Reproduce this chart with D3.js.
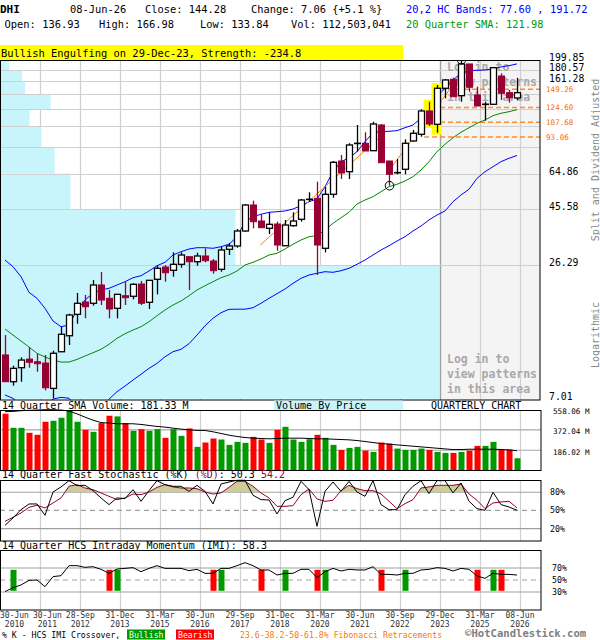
<!DOCTYPE html>
<html><head><meta charset="utf-8">
<script src="https://cdn.jsdelivr.net/npm/d3@7"></script>
<style>
body{margin:0;background:#fff}
svg{display:block}
text{font-family:"DejaVu Sans Mono",monospace}
</style>
</head><body>
<svg id="c" width="600" height="640"></svg>
<script>
// ---------------- DATA ----------------
const symbol = "DHI";
const lastDate = "08-Jun-26";
const lastVolume = "112,503,041";
const patternText = "Bullish Engulfing on 29-Dec-23, Strength: -234.8";

const xTickIdx = [0,4,9,14,19,24,29,34,39,44,49,54,59,64];
const xTickDay = ["30-Jun","30-Jun","28-Sep","31-Dec","31-Mar","30-Jun","29-Sep","31-Dec","31-Mar","30-Jun","30-Sep","29-Dec","31-Mar","08-Jun"];
const xTickYear = ["2010","2011","2012","2013","2015","2016","2017","2018","2020","2021","2022","2023","2025","2026"];

const open = [10.81,8.30,9.53,10.38,10.11,9.98,7.77,11.16,13.07,16.15,
18.24,18.01,21.58,18.92,17.14,19.41,19.30,21.79,18.19,22.83,
25.78,24.95,26.47,28.54,27.16,28.74,27.35,25.20,30.70,31.72,
36.79,47.57,40.61,37.78,39.42,31.80,38.76,41.30,50.00,50.82,
31.01,52.87,73.47,66.09,87.00,87.52,81.34,104.86,73.47,65.20,
67.69,89.53,95.65,120.42,105.59,150.70,164.72,140.07,191.60,141.04,
128.30,128.65,170.16,144.29,136.93];
const high = [13.16,9.72,10.56,11.66,10.91,10.81,11.27,14.25,16.25,19.94,
19.55,22.67,24.53,20.54,19.74,22.29,21.94,22.45,22.67,26.11,
26.29,29.80,29.80,28.54,29.69,31.01,27.90,31.50,32.58,37.52,
48.04,49.63,43.39,44.25,40.33,41.03,44.25,50.47,53.93,59.88,
56.99,73.47,77.96,87.52,104.86,97.56,108.33,105.90,73.47,74.93,
91.03,99.80,122.45,132.01,155.68,165.19,167.34,199.85,191.60,153.09,
132.01,184.72,174.78,148.17,166.98];
const low = [8.27,7.98,8.30,9.53,9.16,7.62,7.04,11.12,11.93,14.72,
15.53,17.59,17.71,15.53,15.53,17.71,18.73,17.71,17.02,19.68,
22.29,23.42,25.60,20.54,26.11,27.00,24.12,24.61,29.02,31.19,
36.53,37.78,38.01,35.71,30.28,31.80,38.39,40.33,49.14,23.82,
29.80,51.12,61.50,61.50,80.54,81.10,81.34,72.24,57.56,64.42,
64.42,88.91,93.41,103.83,97.17,136.51,138.68,132.01,145.71,126.51,
109.42,127.77,134.24,130.71,133.84];
const close = [8.30,9.47,10.28,10.05,9.91,7.82,10.99,13.26,16.04,18.01,
17.41,21.58,18.60,17.02,19.68,19.03,21.73,18.01,22.60,25.45,
24.36,26.47,29.02,27.16,28.74,27.43,24.85,30.49,31.72,36.79,
47.57,40.33,38.01,39.30,32.03,39.03,40.61,49.97,50.30,32.03,
52.87,72.53,65.25,86.06,87.40,81.10,105.90,72.24,64.42,65.44,
87.52,96.60,120.42,105.90,150.70,163.58,138.68,191.60,152.18,126.51,
128.65,184.72,143.42,137.22,144.28];

// volume in millions
const volume = [521.2,392.0,392.0,345.9,327.5,447.4,456.6,484.3,551.9,447.4,
373.6,355.1,435.1,502.7,496.5,435.1,364.3,379.7,364.3,379.7,
299.8,379.7,318.2,385.9,216.8,256.7,293.6,284.4,235.2,262.9,
253.7,309.0,284.4,253.7,373.6,401.2,284.4,262.9,287.5,327.5,
299.8,235.2,189.1,207.5,216.8,182.9,170.6,256.7,247.5,201.4,
189.1,189.1,201.4,189.1,170.6,161.4,161.4,170.6,182.9,226.0,
226.0,262.9,192.1,192.1,112.5];
const volSMA = [539.6,542.7,548.8,551.9,555.0,558.0,558.0,555.0,546.0,520.0,
490.0,462.0,440.0,435.1,428.9,428.9,428.9,422.8,413.5,404.3,
398.2,388.9,379.7,373.6,368.0,367.4,355.1,339.8,324.4,312.1,
302.9,296.7,293.6,290.6,293.6,296.7,296.7,296.7,293.6,290.6,
290.6,287.5,284.4,281.3,275.2,265.9,256.7,247.5,241.4,235.2,
229.0,222.9,216.8,210.6,204.5,198.3,192.1,192.1,195.3,195.3,
195.3,195.3,193.0,189.0,181.33];

const sma20 = [13.97,13.16,12.41,11.69,10.99,10.59,10.28,10.08,10.08,10.35,
10.70,11.05,11.43,12.01,12.74,13.33,13.83,14.29,15.01,15.93,
16.85,17.71,18.42,19.41,20.54,21.43,22.29,23.19,23.82,24.78,
26.29,27.00,27.90,29.02,29.51,30.79,32.26,33.66,34.77,35.12,
37.15,39.70,41.95,44.25,48.04,49.97,51.63,54.25,56.99,58.36,
60.29,62.91,67.22,72.97,80.54,86.65,92.49,97.56,102.09,106.64,
110.17,114.95,117.71,119.59,121.98];
const bandUpper = [27.62,25.85,23.42,20.07,18.92,17.14,15.12,14.29,14.53,16.85,
18.60,19.88,20.54,20.88,21.58,22.29,23.19,23.65,24.78,26.11,
27.00,29.02,29.98,30.79,31.19,31.19,31.01,31.50,32.26,34.77,
40.33,42.37,43.39,44.25,44.52,44.83,45.72,47.24,49.14,50.47,
56.99,66.09,72.97,75.68,80.54,88.91,97.17,98.14,98.52,99.12,
102.09,104.86,112.04,121.61,138.68,150.70,163.58,174.78,179.31,180.03,
180.57,182.37,186.00,188.41,191.72];
const bandLower = [7.28,7.04,6.58,6.81,6.38,6.54,6.99,7.11,7.05,6.36,
6.16,6.14,6.36,6.98,7.52,7.95,8.44,8.93,9.47,9.95,
10.62,11.16,11.43,12.08,13.16,14.43,15.53,16.41,16.97,16.99,
16.99,17.24,18.01,18.92,19.80,20.74,21.94,23.05,23.82,24.22,
24.61,24.46,24.85,25.45,26.47,27.62,29.02,30.49,31.80,33.33,
34.77,36.79,38.65,41.03,43.09,44.83,49.14,52.50,55.55,61.92,
66.09,69.44,72.97,75.45,77.60];

const stochK = [25.5,37.6,51.3,60.7,60.7,42.0,80.4,88.7,99.1,90.9,
91.4,82.6,70.6,59.6,70.6,69.5,84.3,65.1,82.6,99.1,
92.5,89.8,89.8,81.5,91.4,81.5,60.7,93.6,96.9,99.7,
99.7,75.0,67.8,67.3,44.2,66.2,71.7,98.0,84.3,23.9,
81.5,96.9,81.5,98.0,80.4,73.3,99.1,59.6,51.3,51.3,
76.0,89.8,99.1,77.7,99.1,99.1,78.8,95.3,65.1,53.0,
50.2,79.9,59.6,55.7,50.3];
const stochD = [32.1,38.7,45.8,55.2,58.5,54.1,62.3,70.6,89.8,92.5,
87.0,84.3,78.8,73.3,67.8,70.6,77.1,76.0,80.4,88.1,
92.5,88.7,87.0,87.0,85.9,80.4,77.1,78.8,88.1,98.0,
98.0,89.8,78.8,70.6,56.8,56.8,57.9,76.0,85.4,68.9,
65.1,66.7,82.6,91.4,85.9,82.6,82.6,77.1,65.1,53.0,
61.2,67.8,87.0,88.7,91.4,91.4,91.4,93.6,77.1,66.7,
53.0,62.3,64.0,65.1,54.2];

const imi = [30.6,37.2,41.7,49.4,50.0,38.9,55.6,57.2,73.9,73.9,
71.1,72.2,67.8,61.1,68.3,69.4,70.6,63.9,69.4,73.9,
69.4,69.4,69.4,65.6,67.8,61.1,61.1,69.4,69.4,73.9,
78.9,73.9,66.7,66.7,58.3,61.1,61.1,67.8,67.8,53.9,
63.9,69.4,65.0,67.8,66.7,66.7,72.2,59.4,59.4,58.3,
61.1,61.1,66.7,67.8,70.6,69.4,65.0,69.4,67.8,56.7,
52.8,61.1,59.4,59.4,58.3];
const imiBullish = [1,14,27,35,40,50,61];
const imiBearish = [13,26,32,39,47,59,62];

// price levels of the right axis / volume-by-price bins
const priceLevels = [7.01,26.29,45.58,64.86,84.14,103.43,122.71,142.00,161.28,180.57,199.85];
const priceLabels = ["199.85","180.57","161.28","64.86","45.58","26.29","7.01"];
const vbpVolume = [100,53.4,15.9,12.3,9.3,6.6,11.4,5.6,4.9,2.0]; // relative, bottom bin first

const fibLevels = [149.26,124.60,107.68,93.06];
const fibLabels = ["149.26","124.60","107.68","93.06"];
const fibStartIdx = [54,54,54,52];

// trend lines: [startIndex, startValue, endIndex, endValue]
const trendLines = [[31.9,32.0,46.9,93.2],[47.9,66.2,57.9,189.9]];
const patternIdx = [53,54];
const circleLowIdx = 48, circleHighIdx = 57;
const shadeFromIdx = 54;

const volTicks = [186.02,372.04,558.06];
const stochTicks = [20,50,80];
const imiTicks = [30,50,70];

// ---------------- CHART ----------------
const svg = d3.select("#c");
const MAROON = "#990033", GREENV = "#009900", REDV = "#ff0000";
const GRID = "#d0d0d0";

const x = d3.scaleLinear().domain([0,64]).range([5,517]);
const gx = i => x(i) + 3;
const yP = d3.scaleLog().domain([7.01,199.85]).range([398.8,59.7]);
const yV = d3.scaleLinear().domain([0,558.06]).range([470.5,409.7]);
const yS = d3.scaleLinear().domain([0,100]).range([540.8,480.1]);
const yI = d3.scaleLinear().domain([0,100]).range([610,550]);
const vbpW = d3.scaleLinear().domain([0,100]).range([0,440]);
const idx = d3.range(close.length);
const gridIdx = xTickIdx.slice(1);

const defs = svg.append("defs");
defs.append("clipPath").attr("id","mainClip").append("rect").attr("x",0).attr("y",60).attr("width",540).attr("height",340);
defs.append("clipPath").attr("id","stClip").append("rect").attr("x",0).attr("y",480).attr("width",541).attr("height",yS(80)-480);

// ---- header ----
const hdr = svg.append("g").attr("font-size","10.4px");
const chg = close[64]-close[63];
hdr.append("text").attr("x",0).attr("y",13).attr("font-weight","bold").attr("font-size","11px").text(symbol);
hdr.append("text").attr("x",70).attr("y",13).text(lastDate);
hdr.append("text").attr("x",145).attr("y",13).text("Close: "+close[64].toFixed(2));
hdr.append("text").attr("x",251).attr("y",13).text("Change: "+chg.toFixed(2)+" {+"+(chg/close[63]*100).toFixed(1)+" %}");
hdr.append("text").attr("x",406).attr("y",13).attr("fill","#0000ff").text("20,2 HC Bands: "+bandLower[64].toFixed(2)+" , "+bandUpper[64].toFixed(2));
hdr.append("text").attr("x",4.6).attr("y",28).text("Open: "+open[64].toFixed(2));
hdr.append("text").attr("x",99).attr("y",28).text("High: "+high[64].toFixed(2));
hdr.append("text").attr("x",200).attr("y",28).text("Low: "+low[64].toFixed(2));
hdr.append("text").attr("x",291).attr("y",28).text("Vol: "+lastVolume);
hdr.append("text").attr("x",406).attr("y",28).attr("fill","#009900").text("20 Quarter SMA: "+sma20[64].toFixed(2));
svg.append("rect").attr("x",0).attr("y",45).attr("width",403).attr("height",15).attr("fill","#ffff00");
svg.append("text").attr("x",1).attr("y",57).attr("font-size","10.4px").text(patternText);

// ---- main price chart ----
const main = svg.append("g");
main.append("rect").attr("x",0).attr("y",60).attr("width",540).attr("height",340).attr("fill","#fff");
main.append("rect").attr("x",gx(shadeFromIdx)).attr("y",60).attr("width",540-gx(shadeFromIdx)).attr("height",340).attr("fill","#f4f4f4");
main.selectAll(".vg").data(gridIdx).join("line")
  .attr("x1",d=>gx(d)+0.5).attr("x2",d=>gx(d)+0.5).attr("y1",60).attr("y2",400)
  .attr("stroke",d=>d===shadeFromIdx?"#a0a0a0":GRID).attr("stroke-width",1.2);
main.selectAll(".vbp").data(vbpVolume).join("rect")
  .attr("x",0.5).attr("y",(d,i)=>yP(priceLevels[i+1]))
  .attr("width",d=>vbpW(d)).attr("height",(d,i)=>yP(priceLevels[i])-yP(priceLevels[i+1]))
  .attr("fill","#c8f4fc");
main.append("line").attr("x1",gx(shadeFromIdx)+0.5).attr("x2",gx(shadeFromIdx)+0.5).attr("y1",60).attr("y2",400).attr("stroke","#a0a0a0").attr("stroke-width",1.2);
main.selectAll(".hg").data(priceLevels.slice(1,-1)).join("line")
  .attr("x1",0).attr("x2",540).attr("y1",d=>Math.round(yP(d))+0.5).attr("y2",d=>Math.round(yP(d))+0.5)
  .attr("stroke",GRID).attr("stroke-width",1.2);
const loginLines = ["Log in to","view patterns","in this area"];
[71,363].forEach(y0=>{
  loginLines.forEach((t,k)=>{
    main.append("text").attr("x",447).attr("y",y0+k*15).attr("font-size","11.5px")
      .attr("font-weight","bold").attr("fill","#a8a8a8").text(t);
  });
});
main.selectAll(".fib").data(fibLevels).join("line")
  .attr("x1",(d,i)=>gx(fibStartIdx[i])).attr("x2",540)
  .attr("y1",d=>yP(d)).attr("y2",d=>yP(d))
  .attr("stroke","#ff8c2a").attr("stroke-width",1.5).attr("stroke-dasharray","5,3");

const pc = main.append("g").attr("clip-path","url(#mainClip)");
const lineOf = (arr,ys) => d3.line().x((d,i)=>x(i)).y(d=>ys(d))(arr);
pc.append("path").attr("d",lineOf(bandUpper,yP)).attr("fill","none").attr("stroke","#0000ff").attr("stroke-width",1);
pc.append("path").attr("d",lineOf(bandLower,yP)).attr("fill","none").attr("stroke","#0000ff").attr("stroke-width",1);
pc.append("path").attr("d",lineOf(sma20,yP)).attr("fill","none").attr("stroke","#008800").attr("stroke-width",1);
pc.selectAll(".tl").data(trendLines).join("line")
  .attr("x1",d=>x(d[0])).attr("y1",d=>yP(d[1])).attr("x2",d=>x(d[2])).attr("y2",d=>yP(d[3]))
  .attr("stroke","#ff7f00").attr("stroke-width",1);
pc.selectAll(".hl").data(patternIdx).join("rect")
  .attr("x",d=>x(d)-5.5).attr("width",10)
  .attr("y",d=>yP(high[d])-2).attr("height",d=>yP(low[d])-yP(high[d])+4)
  .attr("fill","#ffff00");
const cg = pc.selectAll(".cd").data(idx).join("g");
cg.each(function(i){
  const g = d3.select(this);
  const o=open[i], c=close[i];
  const doji = Math.abs(c-o)/o < 0.01;
  const up = c>=o;
  const col = (doji||up) ? "#000" : MAROON;
  const cx = x(i)+0.5;
  g.append("line").attr("x1",cx).attr("x2",cx).attr("y1",yP(high[i])).attr("y2",yP(low[i]))
    .attr("stroke",col).attr("stroke-width",1.3);
  if (doji) {
    g.append("line").attr("x1",x(i)-3).attr("x2",x(i)+4).attr("y1",yP(c)).attr("y2",yP(c))
      .attr("stroke","#000").attr("stroke-width",1.6);
  } else if (up) {
    g.append("rect").attr("x",x(i)-2.5).attr("width",6).attr("y",yP(c)).attr("height",yP(o)-yP(c))
      .attr("fill","#fff").attr("stroke","#000").attr("stroke-width",1.3);
  } else {
    g.append("rect").attr("x",x(i)-2.5).attr("width",6).attr("y",yP(o)).attr("height",yP(c)-yP(o))
      .attr("fill",MAROON).attr("stroke",MAROON).attr("stroke-width",1);
  }
});
pc.append("circle").attr("cx",x(circleLowIdx)+0.5).attr("cy",yP(low[circleLowIdx])).attr("r",4.3).attr("fill","none").attr("stroke","#000");
pc.append("circle").attr("cx",x(circleHighIdx)+0.5).attr("cy",yP(high[circleHighIdx])).attr("r",4.3).attr("fill","none").attr("stroke","#000");
main.append("rect").attr("x",0.5).attr("y",60.5).attr("width",539.5).attr("height",339.5).attr("fill","none").attr("stroke","#000");

svg.selectAll(".pl").data(priceLabels).join("text")
  .attr("x",549).attr("y",d=>yP(+d)+1).attr("font-size","9.8px").text(d=>d);
svg.selectAll(".fl").data(fibLabels).join("text")
  .attr("x",546).attr("y",(d,i)=>yP(fibLevels[i])+2.5).attr("font-size","7.6px").attr("fill","#ff6a00").text(d=>d);
svg.append("text").attr("transform","translate(599,160) rotate(-90)").attr("text-anchor","middle")
  .attr("font-size","10px").attr("fill","#888").text("Split and Dividend Adjusted");
svg.append("text").attr("transform","translate(599,335) rotate(-90)").attr("text-anchor","middle")
  .attr("font-size","10px").attr("fill","#888").text("Logarithmic");

// ---- volume panel ----
const vp = svg.append("g");
vp.append("text").attr("x",2).attr("y",408.5).attr("font-size","10px").text("14 Quarter SMA Volume: "+volSMA[64].toFixed(2)+" M");
vp.append("rect").attr("x",274).attr("y",400.5).attr("width",129).attr("height",9.5).attr("fill","#c8f4fc");
vp.append("text").attr("x",276).attr("y",408.5).attr("font-size","10px").text("Volume By Price");
vp.append("text").attr("x",431).attr("y",408.5).attr("font-size","10px").text("QUARTERLY CHART");
vp.selectAll(".vvg").data(gridIdx).join("line")
  .attr("x1",d=>gx(d)+0.5).attr("x2",d=>gx(d)+0.5).attr("y1",410).attr("y2",470.5).attr("stroke",GRID).attr("stroke-width",1.2);
vp.selectAll(".vhg").data(volTicks.slice(0,2)).join("line")
  .attr("x1",0).attr("x2",541).attr("y1",d=>yV(d)).attr("y2",d=>yV(d)).attr("stroke","#a8a8a8").attr("stroke-width",1.2);
vp.selectAll(".vb").data(idx).join("rect")
  .attr("x",i=>x(i)-2.5).attr("width",6).attr("y",i=>yV(volume[i])).attr("height",i=>yV(0)-yV(volume[i]))
  .attr("fill",i=>{const down = i===0 ? close[0]<open[0] : close[i]<close[i-1]; return down?REDV:GREENV;});
vp.append("path").attr("d",lineOf(volSMA,yV)).attr("fill","none").attr("stroke","#000").attr("stroke-width",1);
vp.append("rect").attr("x",0.5).attr("y",410.5).attr("width",540.5).attr("height",60).attr("fill","none").attr("stroke","#000");
vp.selectAll(".vl").data(volTicks).join("text")
  .attr("x",553).attr("y",d=>yV(d)+4.5).attr("font-size","7.6px").text(d=>d.toFixed(2)+" M");

// ---- stochastic panel ----
const sp = svg.append("g");
const st = sp.append("text").attr("x",2).attr("y",478).attr("font-size","10px");
st.append("tspan").text("14 Quarter Fast Stochastic (%K) ");
st.append("tspan").attr("fill",MAROON).text("(%D)");
st.append("tspan").text(": "+stochK[64].toFixed(1)+" ");
st.append("tspan").attr("fill",MAROON).text(stochD[64].toFixed(1));
sp.selectAll(".svg").data(gridIdx).join("line")
  .attr("x1",d=>gx(d)+0.5).attr("x2",d=>gx(d)+0.5).attr("y1",480).attr("y2",541).attr("stroke",GRID).attr("stroke-width",1.2);
sp.selectAll(".shg").data(stochTicks).join("line")
  .attr("x1",0).attr("x2",541).attr("y1",d=>yS(d)).attr("y2",d=>yS(d))
  .attr("stroke","#a0a0a0").attr("stroke-width",1.2).attr("stroke-dasharray",d=>d===50?"5,4":null);
sp.append("path").attr("clip-path","url(#stClip)")
  .attr("d",d3.area().x((d,i)=>x(i)).y0(yS(80)).y1(d=>yS(d))(stochD))
  .attr("fill","#cccc99");
sp.append("path").attr("d",lineOf(stochD,yS)).attr("fill","none").attr("stroke",MAROON).attr("stroke-width",1);
sp.append("path").attr("d",lineOf(stochK,yS)).attr("fill","none").attr("stroke","#000").attr("stroke-width",1);
sp.append("rect").attr("x",0.5).attr("y",480.5).attr("width",540.5).attr("height",60.5).attr("fill","none").attr("stroke","#000");
sp.selectAll(".sl").data(stochTicks).join("text")
  .attr("x",550).attr("y",d=>yS(d)+3).attr("font-size","8.3px").text(d=>d+"%");

// ---- IMI panel ----
const ip = svg.append("g");
ip.append("text").attr("x",2).attr("y",549).attr("font-size","10px").text("14 Quarter HCS Intraday Momentum (IMI): "+imi[64].toFixed(1));
ip.selectAll(".ivg").data(gridIdx).join("line")
  .attr("x1",d=>gx(d)+0.5).attr("x2",d=>gx(d)+0.5).attr("y1",550).attr("y2",610).attr("stroke",GRID).attr("stroke-width",1.2);
ip.selectAll(".ihg").data(imiTicks).join("line")
  .attr("x1",0).attr("x2",541).attr("y1",d=>yI(d)).attr("y2",d=>yI(d))
  .attr("stroke","#a0a0a0").attr("stroke-width",1.2).attr("stroke-dasharray",d=>d===50?"5,4":null);
ip.selectAll(".ibu").data(imiBullish).join("rect")
  .attr("x",d=>x(d)-2.5).attr("width",6).attr("y",yI(67)).attr("height",yI(32)-yI(67)).attr("fill",GREENV);
ip.selectAll(".ibe").data(imiBearish).join("rect")
  .attr("x",d=>x(d)-2.5).attr("width",6).attr("y",yI(67)).attr("height",yI(32)-yI(67)).attr("fill",REDV);
ip.append("path").attr("d",lineOf(imi,yI)).attr("fill","none").attr("stroke","#000").attr("stroke-width",1);
ip.append("rect").attr("x",0.5).attr("y",550.5).attr("width",540.5).attr("height",59.5).attr("fill","none").attr("stroke","#000");
ip.selectAll(".il").data(imiTicks).join("text")
  .attr("x",552).attr("y",d=>yI(d)+3).attr("font-size","8.3px").text(d=>d+"%");

// ---- x axis labels (nudged right when they would collide) ----
const xl = svg.append("g").attr("font-size","8px").attr("fill","#333");
let prevEnd = -Infinity;
xTickIdx.forEach((t,k)=>{
  const t1 = xl.append("text").attr("y",617.5).attr("text-anchor","middle").text(xTickDay[k]);
  const w = t1.node().getComputedTextLength();
  let cx = gx(t);
  if (cx - w/2 < 0) cx = w/2;
  if (cx - w/2 < prevEnd + 4) cx = prevEnd + 4 + w/2;
  if (cx + w/2 > 541) cx = 541 - w/2;
  t1.attr("x",cx);
  xl.append("text").attr("x",cx).attr("y",626.5).attr("text-anchor","middle").text(xTickYear[k]);
  prevEnd = cx + w/2;
});

// ---- footer ----
const ft = svg.append("g").attr("font-size","8.2px");
ft.append("text").attr("x",2).attr("y",637.5).text("% K - HCS IMI Crossover,");
ft.append("rect").attr("x",127).attr("y",629.5).attr("width",38).attr("height",10).attr("fill",GREENV);
ft.append("text").attr("x",129).attr("y",637.5).attr("fill","#fff").text("Bullish");
ft.append("rect").attr("x",176).attr("y",629.5).attr("width",38).attr("height",10).attr("fill",REDV);
ft.append("text").attr("x",178).attr("y",637.5).attr("fill","#fff").text("Bearish");
ft.append("text").attr("x",240).attr("y",637.5).attr("fill","#ff7700").text("23.6-38.2-50-61.8% Fibonacci Retracements");
svg.append("text").attr("x",465).attr("y",637).attr("font-size","10.6px").attr("font-weight","bold").attr("fill","#808080").text("©HotCandlestick.com");
</script>
</body></html>
